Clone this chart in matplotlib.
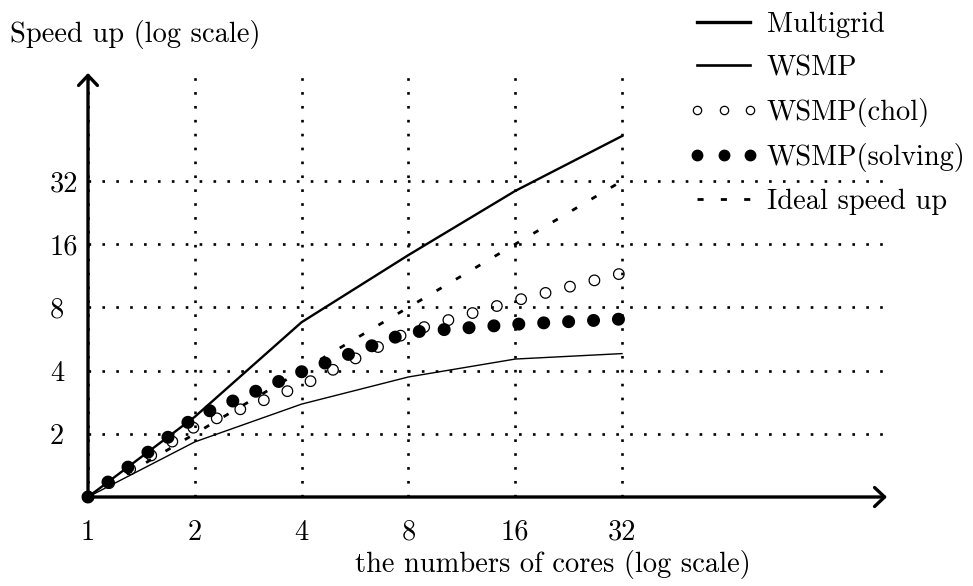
import matplotlib
matplotlib.use('Agg')
import matplotlib.pyplot as plt
from matplotlib.lines import Line2D
from matplotlib.legend_handler import HandlerLine2D

plt.rcParams['font.family'] = 'cmr10'
plt.rcParams['axes.formatter.use_mathtext'] = True
plt.rcParams['lines.scale_dashes'] = False

# values (speed up vs cores, both log2)
cores = [1, 2, 4, 8, 16, 32]
multigrid = [1, 2.41, 6.8, 14.2, 28.7, 52.4]
wsmp = [1, 1.83, 2.77, 3.73, 4.54, 4.82]
wsmp_chol = [1, 2.16, 3.39, 6.13, 8.61, 11.63]
wsmp_solving = [1, 2.40, 3.95, 6.09, 6.65, 7.04]
ideal = [1, 2, 4, 8, 16, 32]

x_ticks = [1, 2, 4, 8, 16, 32]
x_ticklabels = ['1', '2', '4', '8', '16', '32']
y_ticks = [2, 4, 8, 16, 32]
y_ticklabels = ['2', '4', '8', '16', '32']

labels = ['Multigrid', 'WSMP', 'WSMP(chol)', 'WSMP(solving)', 'Ideal speed up']

W, H = 973, 586
fs = 20.5
fig = plt.figure(figsize=(W / 100, H / 100), dpi=100)
ax = fig.add_axes([88 / W, 1 - 497 / H, 799 / W, 420 / H])
ax.set_xscale('log', base=2)
ax.set_yscale('log', base=2)
ax.set_xlim(1, 2 ** (799 / 106.8))
ax.set_ylim(1, 2 ** (420 / 63.2))

# dotted series: round-capped zero length dashes give the dots
ax.plot(cores, wsmp_chol, color='k', lw=8.6, ls=(0, (0.01, 18.15)),
        dash_capstyle='round', zorder=1.5, clip_on=False)
ax.plot(cores, wsmp_chol, color='white', lw=6.8, ls=(0, (0.01, 18.15)),
        dash_capstyle='round', zorder=1.6, clip_on=False)

ax.plot(cores, multigrid, color='k', lw=1.7, zorder=3)
ax.plot(cores, wsmp, color='k', lw=1.0, zorder=3)
ax.plot(cores, ideal, color='k', lw=2.0, ls=(0, (4.2, 12.0)), zorder=3)

ax.plot(cores, wsmp_solving, color='k', lw=9.4, ls=(0, (0.01, 17.95)),
        dash_capstyle='round', zorder=3.5, clip_on=False)

# grid
ax.set_axisbelow(False)
ax.grid(True, color='k', lw=1.9, ls=(0, (1.9, 8.1)))
ax.xaxis.set_minor_locator(matplotlib.ticker.NullLocator())
ax.yaxis.set_minor_locator(matplotlib.ticker.NullLocator())
ax.set_xticks(x_ticks)
ax.set_xticklabels(x_ticklabels)
ax.set_yticks(y_ticks)
ax.set_yticklabels(y_ticklabels)
ax.tick_params(length=0, labelsize=fs)
ax.tick_params(axis='x', pad=16)
ax.tick_params(axis='y', pad=27.4)
for t in ax.get_yticklabels():
    t.set_ha('left')
for s in ax.spines.values():
    s.set_visible(False)

# axes with arrow heads
arrow = dict(arrowstyle='->,head_length=0.36,head_width=0.34', lw=2.4, color='k',
             shrinkA=0, shrinkB=0, mutation_scale=20)
ax.annotate('', xy=(1, 0), xytext=(0, 0), xycoords='axes fraction',
            textcoords='axes fraction', arrowprops=arrow, annotation_clip=False)
ax.annotate('', xy=(0, 1 + 4 / 420), xytext=(0, 0), xycoords='axes fraction',
            textcoords='axes fraction', arrowprops=arrow, annotation_clip=False)

fig.text(10 / W, 1 - 42 / H, 'Speed up (log scale)', fontsize=fs, ha='left', va='baseline')
fig.text(553 / W, 1 - 571.7 / H, 'the numbers of cores (log scale)', fontsize=fs,
         ha='center', va='baseline')

handles = [
    Line2D([], [], color='k', lw=2.4),
    Line2D([], [], color='k', lw=1.9),
    Line2D([], [], ls='none', marker='o', ms=6.0, mfc='white', mec='k', mew=0.9),
    Line2D([], [], ls='none', marker='o', ms=7.5, mfc='k', mec='k'),
    Line2D([], [], color='k', lw=2.0, ls=(0, (4.4, 12.4))),
]
fig.legend(handles, labels, loc='upper left', bbox_to_anchor=(694 / W, 1 - 12 / H),
           frameon=False, fontsize=fs, handlelength=2.1, handletextpad=0.45,
           labelspacing=0.58, borderpad=0, borderaxespad=0, numpoints=3,
           handler_map={Line2D: HandlerLine2D(marker_pad=0.12)})

fig.savefig('out.png', dpi=100)
